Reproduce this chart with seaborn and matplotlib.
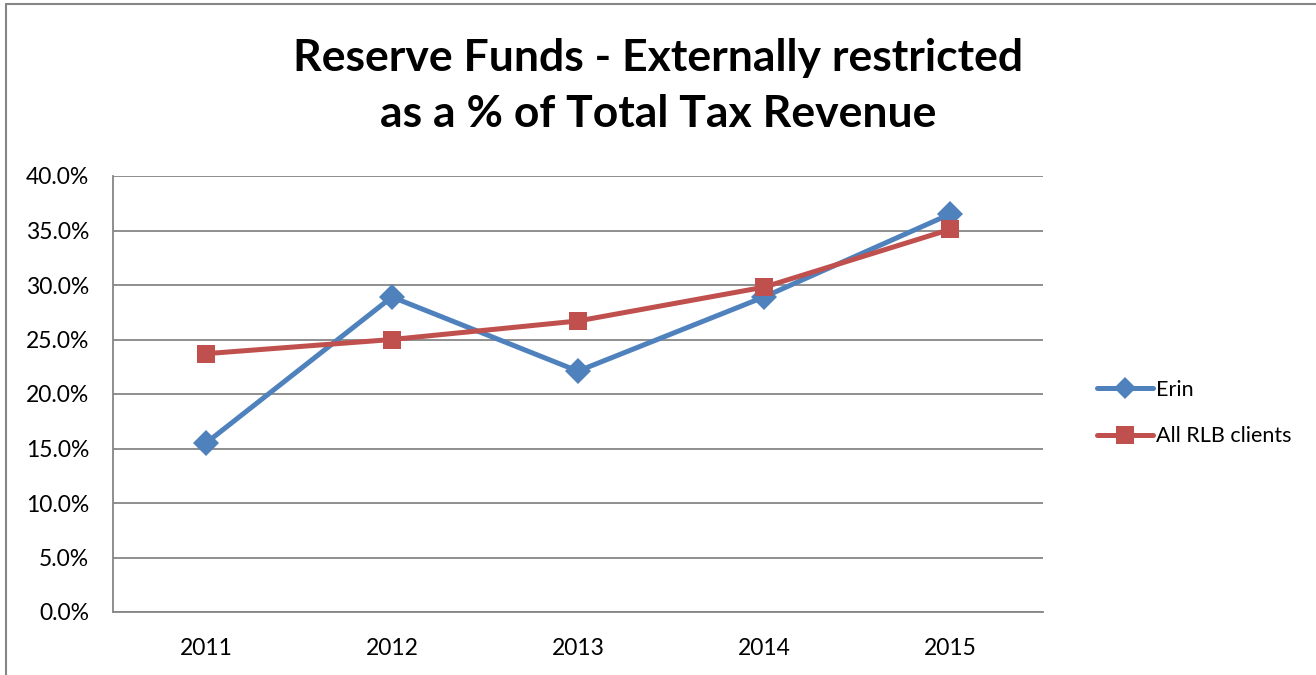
import matplotlib
matplotlib.use("Agg")
import matplotlib.pyplot as plt
import seaborn as sns
import pandas as pd
from matplotlib.lines import Line2D
from matplotlib.ticker import FuncFormatter, MultipleLocator

years = [2011, 2012, 2013, 2014, 2015]
erin = [15.5, 28.9, 22.1, 28.9, 36.5]
all_rlb = [23.7, 25.0, 26.7, 29.8, 35.1]
series_names = ["Erin", "All RLB clients"]
title = "Reserve Funds - Externally restricted\nas a % of Total Tax Revenue"

sns.set_theme(style="white")
plt.rcParams['font.family'] = ['Lato', 'DejaVu Sans']
plt.rcParams['text.color'] = 'black'

df = pd.DataFrame({
    "year": years * 2,
    "value": erin + all_rlb,
    "series": [series_names[0]] * len(years) + [series_names[1]] * len(years),
})

colors = {"Erin": "#4F81BD", "All RLB clients": "#C0504D"}
markers = {"Erin": "D", "All RLB clients": "s"}

fig = plt.figure(figsize=(13.16, 6.75), dpi=100)
ax = fig.add_axes([113/1316, 63/675, 930/1316, 436/675])

sns.lineplot(data=df, x="year", y="value", hue="series", style="series",
             palette=colors, markers=markers, dashes=False, linewidth=3.6,
             markersize=13, markeredgewidth=0, ax=ax, legend=False, zorder=3)

ax.set_xlim(2010.5, 2015.5)
ax.set_ylim(0, 40)
ax.set_xticks(years)
ax.set_xticklabels([str(y) for y in years])
ax.yaxis.set_major_locator(MultipleLocator(5))
ax.yaxis.set_major_formatter(FuncFormatter(lambda v, p: f"{v:.1f}%"))
ax.set_xlabel("")
ax.set_ylabel("")
ax.grid(axis="y", color="#868686", linewidth=1.3, zorder=0)
ax.grid(axis="x", visible=False)
for s in ["top", "right"]:
    ax.spines[s].set_visible(False)
for s in ["left", "bottom"]:
    ax.spines[s].set_color("#868686")
    ax.spines[s].set_linewidth(1.3)
ax.tick_params(axis="both", length=0, labelsize=16.5, colors="black")
ax.tick_params(axis="y", pad=17)
ax.tick_params(axis="x", pad=19)

handles = [Line2D([0], [0], color=colors[n], marker=markers[n], linewidth=3.6,
                  markersize=11 if n == "Erin" else 13, markeredgewidth=0)
           for n in series_names]
leg = fig.legend(handles, series_names, loc="center left",
                 bbox_to_anchor=(1078/1316, 1 - 413/675), frameon=False,
                 fontsize=15.5, handlelength=2.6, handletextpad=0.1, labelspacing=1.25)
for t in leg.get_texts():
    t.set_color("black")

fig.text(0.5, 1 - 86/675, title, ha="center", va="center", fontsize=32,
         fontweight="bold", linespacing=1.5, color="black")

# chart border
fig.add_artist(Line2D([6/1316, 6/1316], [0, 1 - 4/675], color="#868686", linewidth=1.5))
fig.add_artist(Line2D([6/1316, 1], [1 - 4/675, 1 - 4/675], color="#868686", linewidth=1.5))

fig.savefig("out.png", dpi=100)
